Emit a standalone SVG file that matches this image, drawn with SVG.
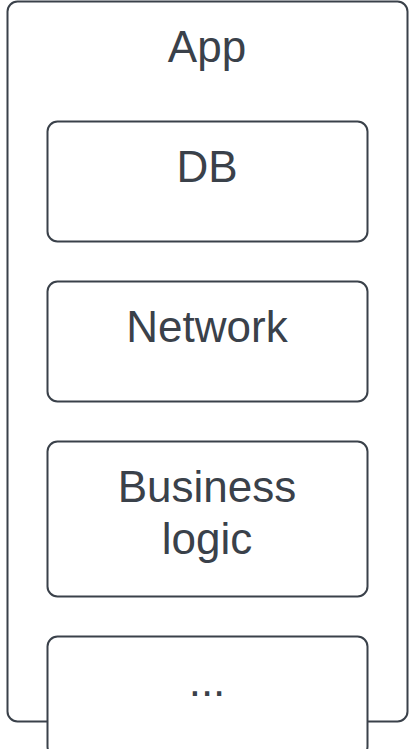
<svg xmlns="http://www.w3.org/2000/svg" width="410" height="749" viewBox="0 0 410 749">
<style>
.box{fill:#fff;stroke:#3a414a;stroke-width:2}
.t{font-family:"Liberation Sans",Arial,sans-serif;font-size:44px;fill:#3a414a;text-anchor:middle}
</style>
<rect width="410" height="749" fill="#fff"/>
<g id="app"><rect class="box" x="7.5" y="1.5" width="400" height="720" rx="10"/><text class="t" x="207" y="62">App</text></g>
<g id="db"><rect class="box" x="47.5" y="121.5" width="320" height="120" rx="10"/><text class="t" x="207" y="182">DB</text></g>
<g id="network"><rect class="box" x="47.5" y="281.5" width="320" height="120" rx="10"/><text class="t" x="207" y="342">Network</text></g>
<g id="business"><rect class="box" x="47.5" y="441.5" width="320" height="155" rx="10"/><text class="t" x="207" y="502">Business</text><text class="t" x="207" y="554">logic</text></g>
<g id="more"><rect class="box" x="47.5" y="636.5" width="320" height="120" rx="10"/><text class="t" x="207" y="696">...</text></g>
<g id="connectors"/>
</svg>
